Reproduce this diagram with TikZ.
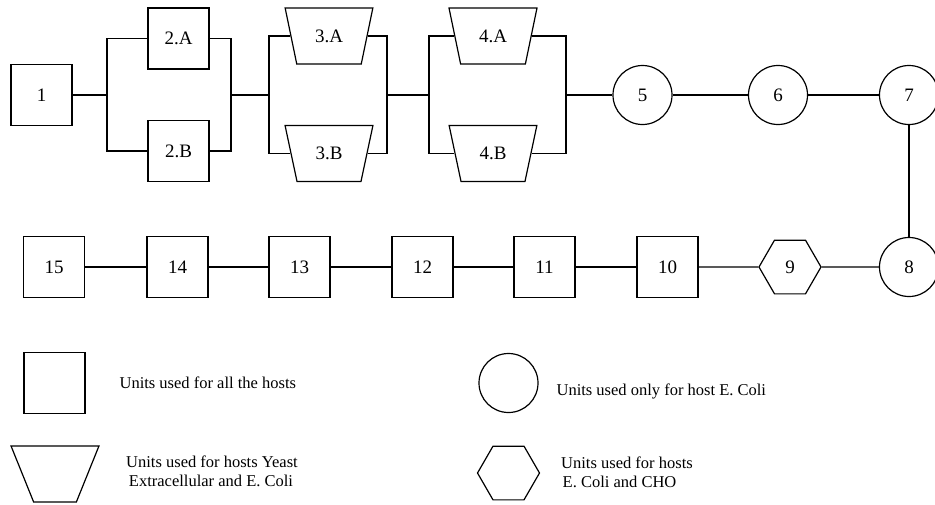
\documentclass[tikz,border=0pt]{standalone}
\usepackage{fontspec}
\setmainfont{Liberation Serif}
\usetikzlibrary{shapes.geometric}
\begin{document}
\begin{tikzpicture}[x=1pt,y=-1pt,line width=1.2pt,
  lbl/.style={font=\fontsize{19}{22}\selectfont},
  unit/.style={draw,rectangle,minimum width=61pt,minimum height=61pt,inner sep=0pt,lbl},
  ecoli/.style={draw,circle,minimum size=59pt,inner sep=0pt,lbl},
  yeast/.style={draw,trapezium,trapezium stretches=true,minimum width=88pt,
    minimum height=56pt,trapezium left angle=68.6,trapezium right angle=68.6,
    shape border rotate=180,inner sep=0pt,lbl},
  cho/.style={draw,regular polygon,regular polygon sides=6,minimum size=62pt,inner sep=0pt,lbl},
  legtext/.style={font=\fontsize{16.5}{19.5}\selectfont,inner sep=0pt}]
\useasboundingbox (0,0) rectangle (935,504);

% upstream train with parallel stages
\node[unit] (u1) at (41.5,95) {1};
\node[unit] (u2a) at (178.5,38.5) {2.A};
\node[unit] (u2b) at (178.5,151) {2.B};
\node[yeast] (u3a) at (329,36) {3.A};
\node[yeast] (u3b) at (329,153.5) {3.B};
\node[yeast] (u4a) at (493,36) {4.A};
\node[yeast] (u4b) at (493,153.5) {4.B};
\node[ecoli] (u5) at (642.5,95) {5};
\node[ecoli] (u6) at (778,95) {6};
\node[ecoli] (u7) at (909,95) {7};

% downstream train
\node[ecoli] (u8) at (909,267) {8};
\node[cho] (u9) at (790,267) {9};
\node[unit] (u10) at (667.5,267) {10};
\node[unit] (u11) at (544.5,267) {11};
\node[unit] (u12) at (422.5,267) {12};
\node[unit] (u13) at (299.5,267) {13};
\node[unit] (u14) at (177.5,267) {14};
\node[unit] (u15) at (54,267) {15};

% split and merge points
\coordinate (j1) at (107,95);
\coordinate (j2) at (231,95);
\coordinate (j3) at (269,95);
\coordinate (j4) at (387,95);
\coordinate (j5) at (429,95);
\coordinate (j6) at (566,95);

\draw (u1) -- (j1);
\draw (j1) |- (u2a);
\draw (j1) |- (u2b);
\draw (u2a) -| (j2);
\draw (u2b) -| (j2);
\draw (j2) -- (j3);
\draw (j3) |- (u3a);
\draw (j3) |- (u3b);
\draw (u3a) -| (j4);
\draw (u3b) -| (j4);
\draw (j4) -- (j5);
\draw (j5) |- (u4a);
\draw (j5) |- (u4b);
\draw (u4a) -| (j6);
\draw (u4b) -| (j6);
\draw (j6) -- (u5);
\draw (u5) -- (u6);
\draw (u6) -- (u7);
\draw (u7) -- (u8);
\draw (u8) -- (u9);
\draw (u9) -- (u10);
\draw (u10) -- (u11);
\draw (u11) -- (u12);
\draw (u12) -- (u13);
\draw (u13) -- (u14);
\draw (u14) -- (u15);

% legend
\node[unit] (legU) at (54.5,383) {};
\node[ecoli] (legE) at (508.5,383) {};
\node[yeast] (legY) at (55,474) {\phantom{0}};
\node[cho] (legC) at (508.5,473) {\phantom{0}};
\node[legtext,anchor=base west] (tU) at (119,388) {Units used for all the hosts};
\node[legtext,anchor=base west] (tE) at (556,395) {Units used only for host E. Coli};
\node[legtext,anchor=base] (tY1) at (212,467) {Units used for hosts Yeast};
\node[legtext,anchor=base] (tY2) at (211,486.5) {Extracellular and E. Coli};
\node[legtext,anchor=base] (tC1) at (627,468) {Units used for hosts};
\node[legtext,anchor=base] (tC2) at (619.5,487) {E. Coli and CHO};
\end{tikzpicture}
\end{document}
